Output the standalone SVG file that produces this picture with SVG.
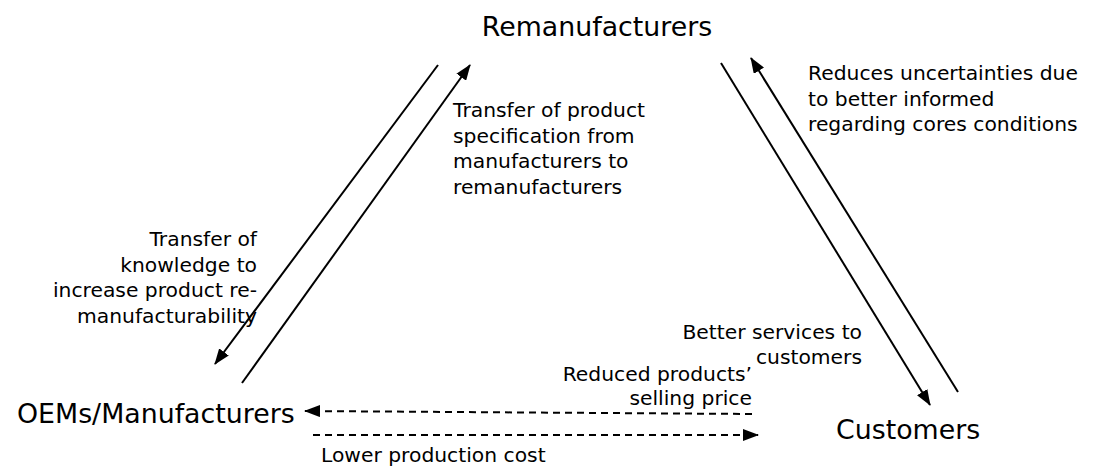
<svg xmlns="http://www.w3.org/2000/svg" width="1097" height="468" viewBox="0 0 1097 468">
<style>
.node{font-family:"DejaVu Sans",Verdana,sans-serif;font-size:26.8px;fill:#000}
.lbl{font-family:"DejaVu Sans",Verdana,sans-serif;font-size:20.3px;fill:#000}
.ln{stroke:#000;stroke-width:2;fill:none}
.dash{stroke-dasharray:7,5}
</style>
<defs>
<marker id="ah" viewBox="0 0 16 12" refX="15" refY="6" markerWidth="8" markerHeight="6" markerUnits="strokeWidth" orient="auto">
<path d="M0,0 L16,6 L0,12 z" fill="#000"/>
</marker>
</defs>
<rect width="1097" height="468" fill="#fff"/>
<g id="remanufacturers"><text class="node" x="597" y="36" text-anchor="middle">Remanufacturers</text></g>
<g id="oems"><text class="node" x="17" y="423">OEMs/Manufacturers</text></g>
<g id="customers"><text class="node" x="836" y="439">Customers</text></g>
<g id="connectors">
<line class="ln" x1="438" y1="65" x2="215" y2="364" marker-end="url(#ah)"/>
<line class="ln" x1="242" y1="383" x2="470" y2="65" marker-end="url(#ah)"/>
<line class="ln" x1="721" y1="63" x2="930" y2="405" marker-end="url(#ah)"/>
<line class="ln" x1="958" y1="392" x2="751" y2="58" marker-end="url(#ah)"/>
<line class="ln dash" x1="752" y1="414" x2="305" y2="411" marker-end="url(#ah)"/>
<line class="ln dash" x1="313" y1="435" x2="758" y2="435" marker-end="url(#ah)"/>
</g>
<g id="labels">
<text class="lbl" x="453" y="117">Transfer of product</text>
<text class="lbl" x="453" y="143">specification from</text>
<text class="lbl" x="453" y="168">manufacturers to</text>
<text class="lbl" x="453" y="194">remanufacturers</text>
<text class="lbl" x="808" y="80">Reduces uncertainties due</text>
<text class="lbl" x="808" y="106">to better informed</text>
<text class="lbl" x="808" y="131">regarding cores conditions</text>
<text class="lbl" x="257" y="246" text-anchor="end">Transfer of</text>
<text class="lbl" x="257" y="272" text-anchor="end">knowledge to</text>
<text class="lbl" x="257" y="297" text-anchor="end">increase product re-</text>
<text class="lbl" x="257" y="323" text-anchor="end">manufacturability</text>
<text class="lbl" x="862" y="339" text-anchor="end">Better services to</text>
<text class="lbl" x="862" y="364" text-anchor="end">customers</text>
<text class="lbl" x="752" y="381" text-anchor="end">Reduced products’</text>
<text class="lbl" x="752" y="405" text-anchor="end">selling price</text>
<text class="lbl" x="321" y="462">Lower production cost</text>
</g>
</svg>
